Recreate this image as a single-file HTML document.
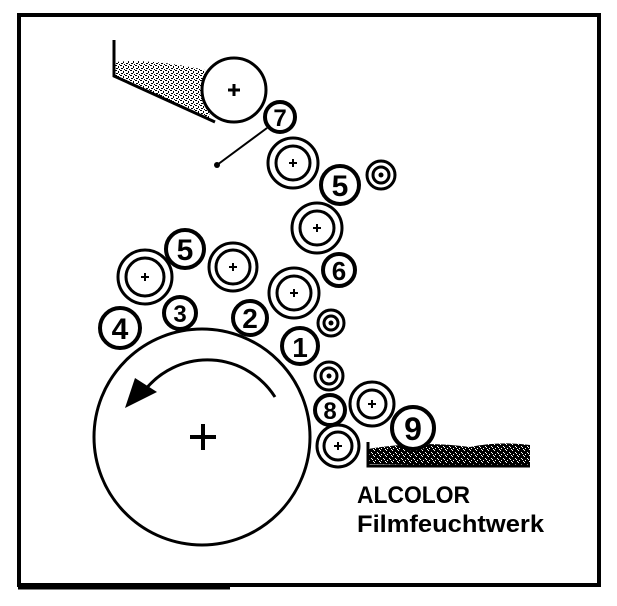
<!DOCTYPE html>
<html><head><style>
html,body{margin:0;padding:0;background:#fff}
svg{display:block}
text{font-family:"Liberation Sans",sans-serif}
</style></head><body>
<svg width="617" height="606" viewBox="0 0 617 606" xmlns="http://www.w3.org/2000/svg">
<defs>
<pattern id="st" width="6" height="6" patternUnits="userSpaceOnUse">
<rect width="6" height="6" fill="#000"/>
<rect x="2" y="0" width="1" height="1" fill="#fff"/>
<rect x="5" y="2" width="1" height="1" fill="#fff"/>
<rect x="0" y="3" width="1" height="1" fill="#fff"/>
<rect x="3" y="4" width="1" height="1" fill="#fff"/>
<rect x="1" y="5" width="1" height="1" fill="#fff"/>
</pattern>
<pattern id="st2" width="5" height="5" patternUnits="userSpaceOnUse">
<rect width="5" height="5" fill="#fff"/>
<rect x="0" y="0" width="2" height="1" fill="#000"/>
<rect x="3" y="1" width="1" height="2" fill="#000"/>
<rect x="1" y="3" width="2" height="1" fill="#000"/>
<rect x="4" y="4" width="1" height="1" fill="#000"/>
</pattern>
</defs>
<rect x="19" y="15" width="580" height="570" fill="none" stroke="#000" stroke-width="4"/>
<line x1="18" y1="588" x2="230" y2="588" stroke="#000" stroke-width="3"/>

<path d="M114,62 Q150,58 205,70 L210,120 L114,76 Z" fill="url(#st2)"/>
<path d="M114,40 L114,76 L215,122" fill="none" stroke="#000" stroke-width="3"/>
<circle cx="234" cy="90" r="32" fill="#fff" stroke="#000" stroke-width="3"/>
<path d="M228,90h12M234,84v12" stroke="#000" stroke-width="3"/>

<line x1="267" y1="128" x2="217" y2="165" stroke="#000" stroke-width="2"/>
<circle cx="217" cy="165" r="3" fill="#000"/>

<g fill="#fff" stroke="#000" stroke-width="3">
<circle cx="293" cy="163" r="25"/><circle cx="293" cy="163" r="17"/>
<circle cx="317" cy="228" r="25"/><circle cx="317" cy="228" r="17"/>
<circle cx="294" cy="293" r="25"/><circle cx="294" cy="293" r="17"/>
<circle cx="233" cy="267" r="24"/><circle cx="233" cy="267" r="17"/>
<circle cx="145" cy="277" r="27"/><circle cx="145" cy="277" r="19"/>
<circle cx="381" cy="175" r="14"/><circle cx="381" cy="175" r="8"/>
<circle cx="331" cy="323" r="13"/><circle cx="331" cy="323" r="7"/>
<circle cx="329" cy="376" r="14"/><circle cx="329" cy="376" r="8"/>
<circle cx="372" cy="404" r="22"/><circle cx="372" cy="404" r="14"/>
<circle cx="338" cy="446" r="21"/><circle cx="338" cy="446" r="14"/>
</g>
<g stroke="#000" stroke-width="2">
<path d="M289,163h8M293,159v8"/>
<path d="M313,228h8M317,224v8"/>
<path d="M290,293h8M294,289v8"/>
<path d="M229,267h8M233,263v8"/>
<path d="M141,277h8M145,273v8"/>
<path d="M368,404h8M372,400v8"/>
<path d="M334,446h8M338,442v8"/>
</g>
<g fill="#000"><circle cx="381" cy="175" r="2.5"/><circle cx="331" cy="323" r="2.5"/><circle cx="329" cy="376" r="2.5"/></g>

<circle cx="202" cy="437" r="108" fill="#fff" stroke="#000" stroke-width="3"/>
<path d="M190,437h26M203,424v26" stroke="#000" stroke-width="4"/>
<path d="M275,397 A80,80 0 0 0 145,390" fill="none" stroke="#000" stroke-width="3"/>
<path d="M125,408 L135,378 L157,392 Z" fill="#000"/>

<path d="M368,449 Q420,440 470,447 Q500,441 530,445 L530,466 L368,464 Z" fill="url(#st)"/>
<path d="M368,442 L368,466 L530,466" fill="none" stroke="#000" stroke-width="3"/>

<g fill="#fff" stroke="#000" stroke-width="4">
<circle cx="280" cy="117" r="15"/>
<circle cx="340" cy="185" r="19"/>
<circle cx="339" cy="270" r="16"/>
<circle cx="185" cy="249" r="19"/>
<circle cx="180" cy="313" r="16"/>
<circle cx="120" cy="328" r="20"/>
<circle cx="250" cy="318" r="17"/>
<circle cx="300" cy="346" r="18"/>
<circle cx="330" cy="410" r="15"/>
<circle cx="413" cy="428" r="21"/>
</g>
<g font-weight="bold" text-anchor="middle" fill="#000">
<text x="280" y="126" font-size="24">7</text>
<text x="340" y="196" font-size="30">5</text>
<text x="339" y="280" font-size="26">6</text>
<text x="185" y="260" font-size="30">5</text>
<text x="180" y="322" font-size="24">3</text>
<text x="120" y="339" font-size="30">4</text>
<text x="250" y="328" font-size="28">2</text>
<text x="300" y="357" font-size="28">1</text>
<text x="330" y="419" font-size="24">8</text>
<text x="413" y="440" font-size="32">9</text>
</g>
<text x="357" y="503" font-size="24" font-weight="bold" fill="#000" textLength="113" lengthAdjust="spacingAndGlyphs">ALCOLOR</text>
<text x="357" y="532" font-size="24" font-weight="bold" fill="#000" textLength="187" lengthAdjust="spacingAndGlyphs">Filmfeuchtwerk</text>
</svg>
</body></html>
